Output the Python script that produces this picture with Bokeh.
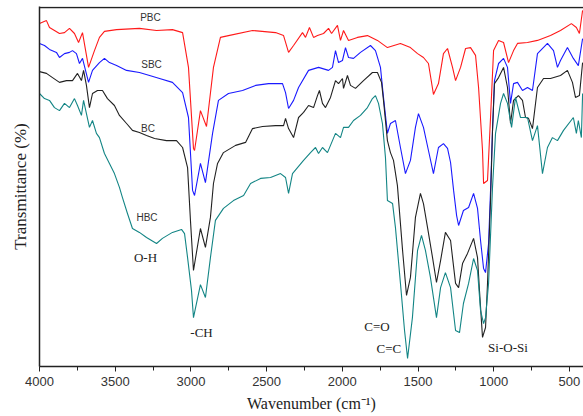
from bokeh.plotting import figure
from bokeh.models import Range1d, SingleIntervalTicker, FixedTicker, Span, ColumnDataSource
from bokeh.core.properties import value
from bokeh.embed import file_html
from bokeh.resources import INLINE

# ---- data (wavenumber in cm-1, transmittance in arbitrary %-like units) ----
pbc_wn = [4000, 3954, 3934, 3901, 3868, 3835, 3802, 3769, 3742, 3716, 3676, 3637, 3604, 3571, 3491, 3340, 3227, 3122, 3055, 3016, 2983, 2976, 2937, 2897, 2851, 2805, 2752, 2593, 2441, 2388, 2355, 2322, 2263, 2243, 2217, 2190, 2164, 2124, 2091, 2071, 2032, 2012, 1992, 1959, 1900, 1834, 1768, 1702, 1616, 1550, 1503, 1464, 1431, 1398, 1365, 1332, 1305, 1272, 1252, 1219, 1186, 1153, 1120, 1100, 1074, 1067, 1041, 1021, 1001, 968, 935, 902, 869, 843, 777, 711, 625, 559, 487, 454, 434, 413]
pbc_t = [114.3, 115.3, 113.0, 112.0, 111.0, 111.3, 112.7, 111.0, 108.0, 111.3, 99.7, 105.3, 109.7, 111.7, 112.3, 112.7, 112.0, 112.3, 111.3, 99.7, 72.7, 72.0, 85.3, 80.0, 99.7, 109.7, 110.3, 112.0, 111.3, 110.3, 104.7, 107.0, 111.3, 109.7, 113.0, 109.7, 110.3, 111.0, 112.7, 111.0, 113.7, 108.7, 112.0, 108.7, 109.7, 110.3, 108.7, 106.3, 107.7, 106.3, 104.3, 103.0, 101.0, 90.7, 94.3, 104.3, 106.0, 99.7, 95.3, 99.7, 106.0, 106.3, 103.7, 93.0, 72.0, 61.0, 62.0, 83.0, 105.3, 108.7, 108.0, 101.3, 105.3, 107.7, 108.0, 108.7, 110.3, 112.0, 114.3, 113.0, 111.0, 118.7]

sbc_wn = [4000, 3967, 3934, 3888, 3868, 3835, 3802, 3782, 3756, 3736, 3716, 3676, 3650, 3604, 3571, 3538, 3491, 3425, 3340, 3273, 3207, 3122, 3055, 3016, 2989, 2976, 2937, 2904, 2857, 2818, 2752, 2659, 2573, 2487, 2395, 2375, 2355, 2322, 2289, 2223, 2157, 2091, 2065, 2045, 2025, 1999, 1979, 1959, 1926, 1880, 1814, 1781, 1748, 1728, 1702, 1682, 1649, 1616, 1583, 1550, 1517, 1497, 1464, 1431, 1398, 1365, 1332, 1305, 1285, 1265, 1245, 1232, 1200, 1166, 1133, 1107, 1087, 1067, 1054, 1034, 1021, 1008, 995, 968, 935, 909, 889, 869, 843, 810, 777, 744, 711, 645, 605, 579, 559, 513, 474, 441, 413]
sbc_t = [107.7, 107.0, 105.7, 104.7, 103.0, 104.3, 104.7, 105.3, 104.3, 101.0, 102.7, 94.7, 98.7, 101.3, 102.7, 101.3, 100.3, 98.7, 98.0, 97.0, 96.0, 94.7, 91.3, 83.0, 58.7, 57.0, 67.7, 61.3, 77.7, 88.7, 91.0, 92.0, 93.7, 94.3, 94.3, 91.3, 86.0, 88.7, 93.0, 98.7, 99.7, 98.7, 99.7, 105.3, 101.3, 102.0, 106.3, 103.0, 102.7, 104.7, 107.0, 105.3, 99.7, 89.7, 77.7, 81.0, 82.0, 73.0, 64.3, 68.7, 79.7, 84.3, 79.7, 72.0, 64.3, 73.0, 74.3, 72.7, 68.0, 58.7, 50.3, 47.0, 52.0, 53.0, 57.7, 52.7, 42.0, 32.7, 31.3, 41.0, 58.7, 78.7, 95.3, 101.0, 102.7, 99.7, 87.7, 94.3, 94.7, 92.0, 93.0, 92.0, 104.3, 107.7, 105.3, 99.7, 102.0, 106.3, 102.7, 100.3, 109.3]

bc_wn = [4000, 3954, 3914, 3868, 3822, 3782, 3749, 3723, 3709, 3690, 3670, 3650, 3617, 3584, 3551, 3505, 3472, 3425, 3386, 3340, 3293, 3240, 3161, 3095, 3055, 3022, 3003, 2983, 2937, 2904, 2871, 2851, 2824, 2785, 2705, 2639, 2593, 2527, 2441, 2388, 2375, 2355, 2322, 2289, 2256, 2223, 2190, 2164, 2151, 2131, 2111, 2078, 2045, 2025, 1999, 1992, 1966, 1946, 1913, 1860, 1801, 1768, 1741, 1728, 1702, 1682, 1662, 1636, 1602, 1576, 1550, 1517, 1484, 1464, 1437, 1404, 1378, 1351, 1319, 1285, 1272, 1252, 1232, 1206, 1173, 1133, 1107, 1094, 1074, 1054, 1041, 1021, 1008, 995, 968, 935, 909, 889, 869, 837, 810, 790, 770, 744, 711, 671, 625, 559, 513, 480, 460, 434, 413]
bc_t = [98.3, 97.7, 96.3, 94.7, 95.3, 95.3, 97.7, 95.3, 98.7, 93.7, 86.3, 91.0, 92.0, 92.0, 89.3, 87.0, 83.7, 81.0, 78.7, 78.0, 77.0, 76.0, 75.3, 75.3, 73.0, 66.3, 48.7, 32.0, 46.0, 39.7, 49.7, 61.0, 67.7, 71.3, 73.7, 74.7, 79.3, 80.0, 80.3, 80.3, 82.7, 79.3, 76.3, 83.0, 84.7, 87.0, 86.3, 90.3, 92.0, 87.7, 86.3, 89.7, 95.3, 94.3, 96.0, 92.7, 97.0, 93.7, 92.7, 95.3, 98.0, 98.0, 94.7, 88.7, 75.3, 71.3, 68.7, 60.3, 38.7, 23.7, 29.7, 49.7, 57.7, 54.3, 46.3, 36.3, 28.0, 35.3, 44.7, 42.0, 36.3, 27.7, 26.3, 34.3, 37.7, 42.7, 36.3, 25.3, 9.7, 13.0, 27.7, 55.3, 78.7, 94.3, 96.3, 99.7, 93.0, 81.0, 88.7, 90.3, 88.7, 83.0, 82.7, 79.3, 93.0, 96.0, 96.0, 97.0, 98.7, 94.7, 89.7, 90.3, 101.3]

hbc_wn = [4000, 3967, 3934, 3901, 3868, 3835, 3802, 3769, 3749, 3723, 3709, 3690, 3670, 3650, 3624, 3604, 3571, 3538, 3505, 3472, 3452, 3419, 3386, 3340, 3293, 3227, 3188, 3122, 3062, 3042, 3022, 2996, 2983, 2937, 2904, 2871, 2838, 2785, 2719, 2652, 2606, 2540, 2474, 2408, 2375, 2355, 2329, 2296, 2256, 2210, 2177, 2157, 2131, 2098, 2065, 2045, 2012, 1992, 1959, 1926, 1880, 1834, 1801, 1781, 1761, 1735, 1715, 1702, 1668, 1649, 1616, 1589, 1569, 1537, 1503, 1477, 1451, 1418, 1378, 1351, 1319, 1285, 1252, 1226, 1200, 1166, 1133, 1107, 1087, 1067, 1054, 1034, 1008, 988, 955, 935, 909, 882, 856, 823, 777, 744, 711, 678, 645, 612, 579, 539, 474, 454, 441, 421, 413]
hbc_t = [91.0, 89.3, 88.7, 86.3, 85.3, 87.7, 86.3, 89.3, 87.0, 83.7, 88.7, 84.3, 79.7, 82.0, 77.7, 76.3, 71.0, 67.7, 64.3, 59.7, 56.3, 51.0, 46.0, 44.7, 43.0, 41.0, 42.7, 44.7, 45.7, 44.3, 36.3, 25.3, 16.3, 27.3, 23.0, 36.3, 48.7, 52.7, 55.3, 57.0, 61.0, 62.7, 63.0, 64.3, 63.0, 57.7, 64.3, 66.3, 68.7, 71.3, 73.0, 71.0, 73.0, 71.3, 75.3, 77.7, 76.3, 79.7, 79.7, 82.0, 83.7, 86.3, 89.3, 90.3, 87.7, 81.0, 69.7, 55.3, 54.3, 46.3, 27.7, 12.0, 2.7, 16.3, 38.7, 43.7, 38.7, 29.7, 16.3, 26.3, 31.3, 26.3, 12.0, 11.3, 21.0, 27.7, 36.0, 32.0, 18.7, 14.3, 16.3, 27.7, 59.7, 77.7, 87.7, 91.0, 87.7, 79.7, 89.7, 83.0, 83.0, 75.3, 80.3, 64.3, 73.0, 76.3, 75.3, 78.7, 83.0, 77.7, 82.0, 76.3, 91.0]

sample_names = ["PBC", "SBC", "BC", "HBC"]
sample_wn = [3267, 3260, 3283, 3290]
sample_t = [116.4, 100.8, 79.5, 49.8]

band_names = ["O-H", "-CH", "C=O", "C=C", "Si-O-Si"]
band_wn = [3300, 2930, 1771, 1692, 906]
band_t = [36.5, 11.2, 13.5, 6.0, 6.2]

# ---- figure ----
p = figure(width=583, height=416,
           x_range=Range1d(4000, 407), y_range=Range1d(0, 120),
           output_backend="svg", toolbar_location=None,
           min_border_left=39, min_border_right=0,
           min_border_top=6, min_border_bottom=50)
p.outline_line_color = None
p.xgrid.visible = False
p.ygrid.visible = False
p.background_fill_color = "white"
p.border_fill_color = "white"

colors = {"PBC": "#ff1a1a", "SBC": "#1a1aff", "BC": "#222222", "HBC": "#138585"}
p.line(pbc_wn, pbc_t, line_color=colors["PBC"], line_width=1.1)
p.line(sbc_wn, sbc_t, line_color=colors["SBC"], line_width=1.1)
p.line(bc_wn, bc_t, line_color=colors["BC"], line_width=1.1)
p.line(hbc_wn, hbc_t, line_color=colors["HBC"], line_width=1.1)

p.add_layout(Span(location=119.7, dimension="width", line_color="#222222", line_width=1.5))

src1 = ColumnDataSource(dict(x=sample_wn, y=sample_t, t=sample_names))
p.text(x="x", y="y", text="t", source=src1, text_font=value("Liberation Sans"),
       text_font_size="10px", text_color="#333333", text_align="center", text_baseline="middle")
src2 = ColumnDataSource(dict(x=band_wn, y=band_t, t=band_names))
p.text(x="x", y="y", text="t", source=src2, text_font=value("Liberation Serif"),
       text_font_size="13px", text_color="#222222", text_align="center", text_baseline="middle")

xa = p.xaxis[0]
xa.ticker = SingleIntervalTicker(interval=500, num_minor_ticks=2)
xa.axis_label = "Wavenumber (cm\u207b\u00b9)"
xa.axis_label_text_font = "Liberation Serif"
xa.axis_label_text_font_style = "normal"
xa.axis_label_text_font_size = "16px"
xa.axis_label_text_color = "#222222"
xa.axis_label_standoff = 6
xa.major_label_text_font = "Liberation Sans"
xa.major_label_text_font_size = "13px"
xa.major_label_text_color = "#333333"
xa.major_label_standoff = 5
xa.axis_line_color = "#222222"
xa.axis_line_width = 1.5
xa.major_tick_in = 0
xa.major_tick_out = 5
xa.minor_tick_in = 0
xa.minor_tick_out = 4
xa.major_tick_line_color = "#222222"
xa.minor_tick_line_color = "#222222"

ya = p.yaxis[0]
ya.ticker = FixedTicker(ticks=[])
ya.major_label_text_font_size = "0px"
ya.major_tick_out = 0
ya.major_tick_in = 0
ya.minor_tick_out = 0
ya.minor_tick_in = 0
ya.major_label_standoff = 0
ya.axis_label = "Transmittance (%)"
ya.axis_label_text_font = "Liberation Serif"
ya.axis_label_text_font_style = "normal"
ya.axis_label_text_font_size = "17px"
ya.axis_label_text_color = "#222222"
ya.axis_label_standoff = 10
ya.axis_line_color = "#222222"
ya.axis_line_width = 1.5

open("out.html", "w").write(file_html(p, INLINE))
